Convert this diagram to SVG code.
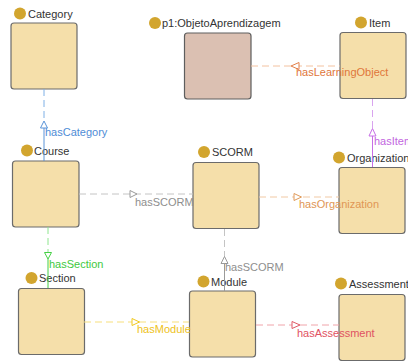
<svg xmlns="http://www.w3.org/2000/svg" width="408" height="361" viewBox="0 0 408 361">
  <style>
    .box { fill: #f5dfaa; stroke: #6b6b6b; stroke-width: 1.2; }
    .ext { fill: #dbc0b2; stroke: #5e5e5e; stroke-width: 1.2; }
    .dot { fill: #d2a52e; }
    .nlabel { font-family: "Liberation Sans", Arial, sans-serif; font-size: 11px; fill: #333333; }
    .elabel { font-family: "Liberation Sans", Arial, sans-serif; font-size: 11px; }
    .dash { fill: none; stroke-width: 1; stroke-dasharray: 7 4; }
    .solid { fill: none; stroke-width: 1; }
    .head { fill: #ffffff; stroke-width: 1; }
  </style>

  <!-- nodes -->
  <g id="n-Category">
    <rect class="box" x="11" y="23" width="66" height="66" rx="3"/>
    <circle class="dot" cx="20" cy="13.5" r="6"/>
    <text class="nlabel" x="28" y="17.5">Category</text>
  </g>
  <g id="n-ObjetoAprendizagem">
    <rect class="ext" x="184.5" y="33" width="66.5" height="66" rx="3"/>
    <circle class="dot" cx="155" cy="23" r="6"/>
    <text class="nlabel" x="162" y="27">p1:ObjetoAprendizagem</text>
  </g>
  <g id="n-Item">
    <rect class="box" x="340" y="32.5" width="66" height="66" rx="3"/>
    <circle class="dot" cx="361" cy="22.5" r="6"/>
    <text class="nlabel" x="369" y="26.5">Item</text>
  </g>
  <g id="n-Course">
    <rect class="box" x="12.5" y="161" width="66.5" height="66" rx="3"/>
    <circle class="dot" cx="27" cy="150.5" r="6"/>
    <text class="nlabel" x="34" y="155">Course</text>
  </g>
  <g id="n-SCORM">
    <rect class="box" x="193" y="162.5" width="66" height="66" rx="3"/>
    <circle class="dot" cx="204" cy="152" r="6"/>
    <text class="nlabel" x="212" y="156">SCORM</text>
  </g>
  <g id="n-Organization">
    <rect class="box" x="339" y="167.5" width="66" height="66" rx="3"/>
    <circle class="dot" cx="339" cy="157.5" r="6"/>
    <text class="nlabel" x="347" y="161.5">Organization</text>
  </g>
  <g id="n-Section">
    <rect class="box" x="18.5" y="288.5" width="66" height="66" rx="3"/>
    <circle class="dot" cx="31.5" cy="278" r="6"/>
    <text class="nlabel" x="39" y="282">Section</text>
  </g>
  <g id="n-Module">
    <rect class="box" x="189.5" y="291" width="66" height="66" rx="3"/>
    <circle class="dot" cx="203.5" cy="281.5" r="6"/>
    <text class="nlabel" x="211" y="286">Module</text>
  </g>
  <g id="n-Assessment">
    <rect class="box" x="339" y="294.5" width="66" height="66" rx="3"/>
    <circle class="dot" cx="341" cy="283.5" r="6"/>
    <text class="nlabel" x="349" y="288">Assessment</text>
  </g>

  <!-- connectors, painted above the nodes so their labels stay readable -->
  <g id="connectors">
    <!-- hasCategory: Course -> Category -->
    <g id="e-hasCategory" stroke="#7fb0e6">
      <line class="dash" x1="44" y1="89" x2="44" y2="122"/>
      <line class="solid" x1="44" y1="128" x2="44" y2="161" stroke="#5a94d8"/>
      <polygon class="head" points="44,121 40.5,128 47.5,128" stroke="#5a94d8"/>
      <text class="elabel" x="45" y="136" fill="#4f8cd6" stroke="none">hasCategory</text>
    </g>
    <!-- hasLearningObject: Item -> p1:ObjetoAprendizagem -->
    <g id="e-hasLearningObject" stroke="#f3c2a0">
      <line class="dash" x1="251" y1="66" x2="340" y2="66"/>
      <polygon class="head" points="291,66 299,62.5 299,69.5" stroke="#e3804a"/>
      <text class="elabel" x="296" y="76" fill="#e0763a" stroke="none">hasLearningObject</text>
    </g>
    <!-- hasItem: Organization -> Item -->
    <g id="e-hasItem" stroke="#d9a4ef">
      <line class="dash" x1="372.5" y1="99" x2="372.5" y2="129"/>
      <line class="solid" x1="372.5" y1="136" x2="372.5" y2="167" stroke="#c76ee6"/>
      <polygon class="head" points="372.5,128.5 369,136 376,136" stroke="#c76ee6"/>
      <text class="elabel" x="374" y="145" fill="#c266e0" stroke="none">hasItem</text>
    </g>
    <!-- hasSCORM: Course -> SCORM -->
    <g id="e-hasSCORM-course" stroke="#c4c4c4">
      <line class="dash" x1="79" y1="194" x2="193" y2="194"/>
      <polygon class="head" points="137,194 130,190.5 130,197.5" stroke="#9a9a9a"/>
      <text class="elabel" x="135" y="206" fill="#8e8e8e" stroke="none">hasSCORM</text>
    </g>
    <!-- hasOrganization: SCORM -> Organization -->
    <g id="e-hasOrganization" stroke="#f1c9a4">
      <line class="dash" x1="259" y1="197" x2="339" y2="197"/>
      <polygon class="head" points="301.5,197 294,193.5 294,200.5" stroke="#e09a5a"/>
      <text class="elabel" x="299" y="208" fill="#e09654" stroke="none">hasOrganization</text>
    </g>
    <!-- hasSection: Course -> Section -->
    <g id="e-hasSection" stroke="#8ee58e">
      <line class="dash" x1="48" y1="227" x2="48" y2="253"/>
      <line class="solid" x1="48" y1="259" x2="48" y2="288" stroke="#44d044"/>
      <polygon class="head" points="48,259 44.5,252.5 51.5,252.5" stroke="#44d044"/>
      <text class="elabel" x="49" y="268" fill="#3ec93e" stroke="none">hasSection</text>
    </g>
    <!-- hasSCORM: Module -> SCORM -->
    <g id="e-hasSCORM-module" stroke="#c4c4c4">
      <line class="dash" x1="224.5" y1="229" x2="224.5" y2="257"/>
      <line class="solid" x1="224.5" y1="263" x2="224.5" y2="291" stroke="#9a9a9a"/>
      <polygon class="head" points="224.5,256.5 221,263.5 228,263.5" stroke="#9a9a9a"/>
      <text class="elabel" x="225" y="271" fill="#8e8e8e" stroke="none">hasSCORM</text>
    </g>
    <!-- hasModule: Section -> Module -->
    <g id="e-hasModule" stroke="#f7df7c">
      <line class="dash" x1="84" y1="322" x2="189" y2="322"/>
      <polygon class="head" points="139.5,322 132,318.5 132,325.5" stroke="#f0c81e"/>
      <text class="elabel" x="137" y="333" fill="#eec21a" stroke="none">hasModule</text>
    </g>
    <!-- hasAssessment: Module -> Assessment -->
    <g id="e-hasAssessment" stroke="#f0a4aa">
      <line class="dash" x1="256" y1="325" x2="339" y2="325"/>
      <polygon class="head" points="300,325 292,321.5 292,328.5" stroke="#e05a66"/>
      <text class="elabel" x="297" y="337" fill="#df5262" stroke="none">hasAssessment</text>
    </g>
  </g>
</svg>
